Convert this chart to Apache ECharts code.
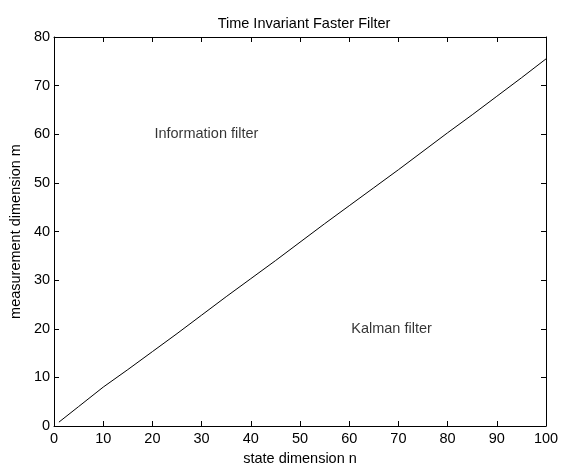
<!DOCTYPE html>
<html>
<head>
<meta charset="utf-8">
<script src="https://cdn.jsdelivr.net/npm/echarts@6/dist/echarts.min.js"></script>
<style>
  html, body { margin: 0; padding: 0; background: #fff; }
  #chart { width: 563px; height: 471px; }
</style>
</head>
<body>
<div id="chart"></div>
<script>
// data
const stateDims = [1, 5, 10, 15, 20, 25, 30, 35, 40, 45, 50, 55, 60, 65, 70, 75, 80, 85, 90, 95, 100];
const measDims = [0.8, 4.0, 8.0, 11.6, 15.3, 19.0, 22.8, 26.6, 30.3, 34.0, 37.8, 41.6, 45.3, 49.0, 52.7, 56.5, 60.3, 64.0, 67.8, 71.6, 75.5];
const regionLabels = ['Information filter', 'Kalman filter'];
const regionPos = [[20, 60], [60, 20]];

const font = 'Liberation Sans, Arial, sans-serif';
const fs = 14.5;
const chart = echarts.init(document.getElementById('chart'));

const boxAxis = {
    axisLine: { show: true, onZero: false, lineStyle: { color: '#000', width: 1 } },
    axisTick: { show: true, inside: true, length: 5, lineStyle: { color: '#000' } },
    splitLine: { show: false }
};

const option = {
    animation: false,
    backgroundColor: '#fff',
    title: {
        text: 'Time Invariant Faster Filter',
        left: 299,
        textAlign: 'center',
        top: 11,
        textStyle: { fontFamily: font, fontSize: fs, fontWeight: 'normal', color: '#000' }
    },
    grid: { left: 52, right: 17, top: 37, bottom: 40 },
    xAxis: [
        Object.assign({}, boxAxis, {
            type: 'value', min: 0, max: 100, interval: 10,
            name: 'state dimension n', nameLocation: 'middle', nameGap: 25,
            nameTextStyle: { fontFamily: font, fontSize: fs, color: '#000' },
            axisLabel: { fontFamily: font, fontSize: fs, color: '#000', margin: 5 }
        }),
        Object.assign({}, boxAxis, {
            type: 'value', min: 0, max: 100, interval: 10, position: 'top',
            axisLabel: { show: false }
        })
    ],
    yAxis: [
        Object.assign({}, boxAxis, {
            type: 'value', min: 0, max: 80, interval: 10,
            name: 'measurement dimension m', nameLocation: 'middle', nameGap: 25,
            nameTextStyle: { fontFamily: font, fontSize: fs, color: '#000' },
            axisLabel: { fontFamily: font, fontSize: fs, color: '#000', margin: 4 }
        }),
        Object.assign({}, boxAxis, {
            type: 'value', min: 0, max: 80, interval: 10, position: 'right',
            axisLabel: { show: false }
        })
    ],
    series: [
        {
            type: 'line',
            data: stateDims.map((n, i) => [n, measDims[i]]),
            showSymbol: false,
            lineStyle: { color: '#000', width: 1 },
            silent: true
        },
        {
            type: 'scatter',
            data: regionPos.map((p, i) => ({ value: p, name: regionLabels[i] })),
            symbolSize: 0,
            label: {
                show: true,
                position: 'right',
                distance: 2,
                formatter: p => p.name,
                fontFamily: font, fontSize: fs, color: '#000'
            },
            silent: true
        }
    ]
};
option && chart.setOption(option);
</script>
</body>
</html>
